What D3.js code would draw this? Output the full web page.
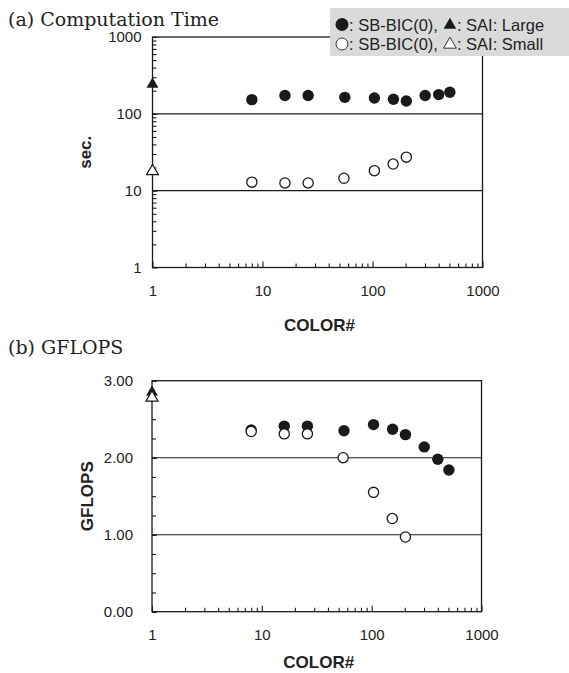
<!DOCTYPE html>
<html>
<head>
<meta charset="utf-8">
<script src="https://cdn.jsdelivr.net/npm/d3@7"></script>
<style>
  html, body { margin: 0; padding: 0; background: #fff; }
  svg { display: block; }
  .tick text { font-family: "Liberation Sans Narrow", "Arial Narrow", "Liberation Sans", Arial, sans-serif; font-size: 15px; fill: #222; }
  .title { font-family: "DejaVu Serif", "Liberation Serif", serif; font-size: 19px; fill: #222; }
  .axis-title { font-family: "Liberation Sans", Arial, sans-serif; font-size: 17px; font-weight: bold; fill: #222; }
  .legend text { font-family: "Liberation Sans", Arial, sans-serif; font-size: 16.5px; fill: #222; white-space: pre; }
</style>
</head>
<body>
<script>
// Number of colours (multicolour ordering) for each run
const colorsLarge = [8, 16, 26, 56, 104, 155, 203, 301, 400, 505];
const colorsSmall = [8, 16, 26, 55, 104, 154, 203];
// Computation time [sec.]
const timeLarge = [153, 173, 173, 164, 161, 155, 147, 173, 178, 191];
const timeSmall = [12.9, 12.6, 12.6, 14.5, 18.2, 22.2, 27.3];
// GFLOPS
const gflopsLarge = [2.36, 2.41, 2.41, 2.35, 2.43, 2.37, 2.30, 2.14, 1.98, 1.84];
const gflopsSmall = [2.34, 2.31, 2.31, 2.00, 1.55, 1.21, 0.97];
// SAI reference (plotted at COLOR# = 1)
const saiColor = 1;
const saiTime = { large: 242, small: 17.9 };
const saiGflops = { large: 2.85, small: 2.78 };
// Axis ticks
const xTicks = [1, 10, 100, 1000];
const timeTicks = [1, 10, 100, 1000];
const gflopsTicks = [0, 1, 2, 3];
const timeGrid = [10, 100];
const gflopsGrid = [1, 2];

const W = 569, H = 673;
const ink = "#1a1a1a";

const svg = d3.select("body").append("svg")
  .attr("width", W).attr("height", H);

function minorLog(lo, hi) {
  const out = [];
  for (let d = lo; d < hi; d *= 10)
    for (let m = 2; m <= 9; m++) out.push(d * m);
  return out;
}

function panel(opt) {
  const g = svg.append("g");
  const x = d3.scaleLog().domain([1, 1000]).range([opt.left, opt.right]);
  const y = opt.yScale;

  // gridlines
  g.selectAll("line.grid").data(opt.grid).join("line")
    .attr("class", "grid")
    .attr("x1", opt.left).attr("x2", opt.right)
    .attr("y1", d => y(d)).attr("y2", d => y(d))
    .attr("stroke", ink).attr("stroke-width", 1.1);

  // x axis: major ticks with labels
  const xa = g.append("g").attr("transform", `translate(0,${opt.bottom})`)
    .call(d3.axisBottom(x).tickValues(xTicks).tickFormat(d3.format("d"))
      .tickSizeInner(-6).tickSizeOuter(0).tickPadding(18));
  xa.select(".domain").remove();
  xa.selectAll(".tick line").attr("stroke", ink).attr("stroke-width", 1.1);

  // x axis: minor ticks
  const xm = g.append("g").attr("transform", `translate(0,${opt.bottom})`)
    .call(d3.axisBottom(x).tickValues(minorLog(1, 1000)).tickFormat("")
      .tickSizeInner(-4).tickSizeOuter(0));
  xm.select(".domain").remove();
  xm.selectAll(".tick line").attr("stroke", ink).attr("stroke-width", 1.1);

  // y axis: major ticks with labels
  const ya = g.append("g").attr("transform", `translate(${opt.left},0)`)
    .call(d3.axisLeft(y).tickValues(opt.yTicks).tickFormat(opt.yFormat)
      .tickSizeInner(-5).tickSizeOuter(0).tickPadding(opt.yPad));
  ya.select(".domain").remove();
  ya.selectAll(".tick line").attr("stroke", ink).attr("stroke-width", 1.1);

  // y axis: minor ticks
  const ym = g.append("g").attr("transform", `translate(${opt.left},0)`)
    .call(d3.axisLeft(y).tickValues(opt.yMinor).tickFormat("")
      .tickSizeInner(-4).tickSizeOuter(0));
  ym.select(".domain").remove();
  ym.selectAll(".tick line").attr("stroke", ink).attr("stroke-width", 1.1);

  // frame
  g.append("rect")
    .attr("x", opt.left).attr("y", opt.top)
    .attr("width", opt.right - opt.left).attr("height", opt.bottom - opt.top)
    .attr("fill", "none").attr("stroke", ink).attr("stroke-width", 1.3);

  // axis titles
  g.append("text").attr("class", "axis-title")
    .attr("x", (opt.left + opt.right) / 2 + 2).attr("y", opt.xTitleY)
    .attr("text-anchor", "middle").text("COLOR#");
  g.append("text").attr("class", "axis-title")
    .attr("transform", `translate(${opt.yTitleX},${(opt.top + opt.bottom) / 2}) rotate(-90)`)
    .attr("text-anchor", "middle").text(opt.yTitle);

  // panel title
  g.append("text").attr("class", "title")
    .attr("x", 8).attr("y", opt.titleY).text(opt.title);

  // markers: filled (Large) first, open (Small) on top
  const tri = d3.symbol().type(d3.symbolTriangle).size(62);
  g.append("path").attr("d", tri())
    .attr("transform", `translate(${x(saiColor)},${y(opt.sai.large)})`)
    .attr("fill", ink);
  g.selectAll("circle.large").data(colorsLarge).join("circle")
    .attr("class", "large")
    .attr("cx", d => x(d)).attr("cy", (d, i) => y(opt.large[i]))
    .attr("r", 5.7).attr("fill", ink);
  g.selectAll("circle.small").data(colorsSmall).join("circle")
    .attr("class", "small")
    .attr("cx", d => x(d)).attr("cy", (d, i) => y(opt.small[i]))
    .attr("r", 5.1).attr("fill", "#fff").attr("stroke", ink).attr("stroke-width", 1.3);
  g.append("path").attr("d", tri())
    .attr("transform", `translate(${x(saiColor)},${y(opt.sai.small)})`)
    .attr("fill", "#fff").attr("stroke", ink).attr("stroke-width", 1.2);
}

panel({
  left: 152.5, right: 482.5, top: 37, bottom: 267.5,
  yScale: d3.scaleLog().domain([1, 1000]).range([267.5, 37]),
  yTicks: timeTicks, yMinor: minorLog(1, 1000), yFormat: d3.format("d"), yPad: 11,
  grid: timeGrid, large: timeLarge, small: timeSmall, sai: saiTime,
  yTitle: "sec.", yTitleX: 91, xTitleY: 331,
  title: "(a) Computation Time", titleY: 26
});

panel({
  left: 152, right: 481.5, top: 380.7, bottom: 611.7,
  yScale: d3.scaleLinear().domain([0, 3]).range([611.7, 380.7]),
  yTicks: gflopsTicks, yMinor: d3.range(0, 3.01, 0.25), yFormat: d3.format(".2f"), yPad: 19,
  grid: gflopsGrid, large: gflopsLarge, small: gflopsSmall, sai: saiGflops,
  yTitle: "GFLOPS", yTitleX: 93, xTitleY: 668,
  title: "(b) GFLOPS", titleY: 354
});

// legend, drawn over the upper-right corner of panel (a)
const lg = svg.append("g").attr("class", "legend");
lg.append("rect").attr("x", 330).attr("y", 8).attr("width", W - 330).attr("height", 48)
  .attr("fill", "#dadada");

const legendRows = [
  { y: 30.5, open: false, a: ": SB-BIC(0),", b: ": SAI: Large" },
  { y: 50, open: true, a: ": SB-BIC(0),", b: ": SAI: Small" }
];
const ltri = d3.symbol().type(d3.symbolTriangle).size(70);
legendRows.forEach(r => {
  const fill = r.open ? "#fff" : ink;
  const stroke = r.open ? "#333" : "none";
  lg.append("circle").attr("cx", 342).attr("cy", r.y - 6)
    .attr("r", r.open ? 6 : 6.5)
    .attr("fill", fill).attr("stroke", stroke).attr("stroke-width", 1);
  const t1 = lg.append("text").attr("x", 349).attr("y", r.y).text(r.a);
  const w1 = t1.node().getComputedTextLength();
  const tx = 349 + w1 + 12;
  lg.append("path").attr("d", ltri())
    .attr("transform", `translate(${tx},${r.y - 5.5})`)
    .attr("fill", fill).attr("stroke", stroke).attr("stroke-width", 1);
  lg.append("text").attr("x", tx + 7).attr("y", r.y).text(r.b);
});
</script>
</body>
</html>
